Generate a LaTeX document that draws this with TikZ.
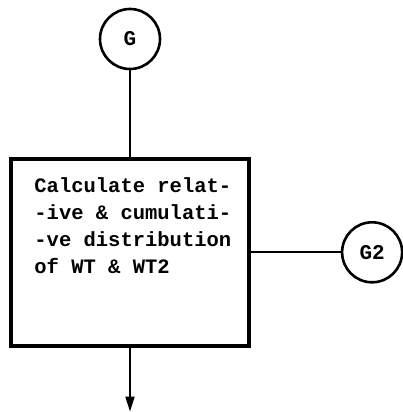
\documentclass[tikz,border=0pt]{standalone}
\usepackage{fontspec}
\setmonofont{Liberation Mono}
\usetikzlibrary{positioning, arrows.meta}
\tikzset{x=1pt, y=1pt, >={Triangle[width=9pt,length=15pt]},
  connector/.style={circle, draw, line width=2.6pt, minimum size=60pt, inner sep=0pt, font=\ttfamily\bfseries\fontsize{21}{21}\selectfont},
  procbox/.style={draw, line width=3.6pt, minimum width=238pt, minimum height=187pt, inner sep=0pt},
  proctext/.style={align=left, inner sep=0pt, font=\ttfamily\bfseries\fontsize{20.5}{27}\selectfont},
  flow/.style={line width=1.8pt},
}

\begin{document}
\begin{tikzpicture}
        \useasboundingbox (0,0) rectangle (403,-412);
        \node[connector] (G) at (130,-39) {G};
        \node[procbox, below=118pt of G.center, anchor=north] (calc) {};
        \node[proctext, anchor=north west] (calctext) at ([xshift=25pt,yshift=-20pt]calc.north west)
                {Calculate relat-\\-ive \& cumulati-\\-ve distribution\\of WT \& WT2};
        \node[connector, right=90pt of calc.east, anchor=west] (G2) {G2};
        \coordinate (out) at ([yshift=-64pt]calc.south);

        \draw[flow] (G) -- (calc.north);
        \draw[flow] (calc.east) -- (G2);
        \draw[flow, ->] (calc.south) -- (out);
    \end{tikzpicture}
\end{document}
